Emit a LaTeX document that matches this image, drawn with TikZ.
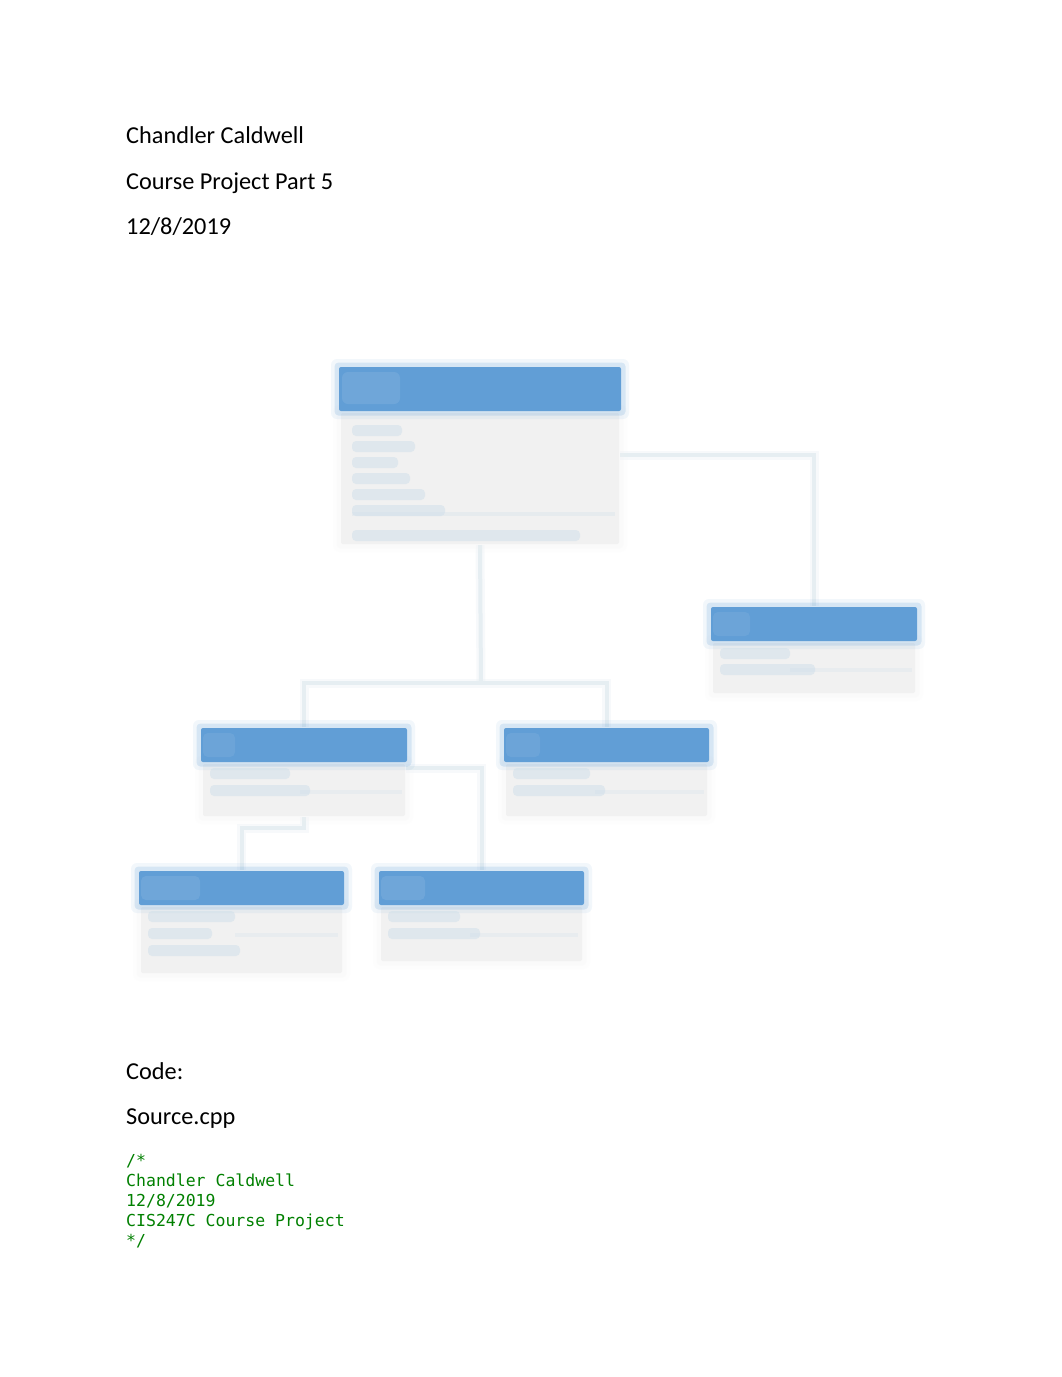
\documentclass[tikz,border=0pt]{standalone}
\usepackage{fontspec}
\setmainfont{Carlito}
\newfontfamily\codefam{DejaVu Sans Mono}
\usetikzlibrary{calc}
\definecolor{hdr}{HTML}{5B9BD5}
\definecolor{bodyc}{HTML}{F1F1F1}
\definecolor{connc}{HTML}{E6EEF2}
\definecolor{txtc}{HTML}{CFDFEA}
\definecolor{codegreen}{HTML}{008000}
\newcommand\bodyfs{\fontsize{24.3}{29}\selectfont}
\newcommand\codefs{\codefam\fontsize{16.5}{20}\selectfont}
\newcommand\softfill[3]{%
  \fill[#1,opacity=0.08,rounded corners=6pt] ($(#2.north west)+(-7,-7)$) rectangle ($(#2.south east)+(7,7)$);
  \fill[#1,opacity=0.18,rounded corners=4pt] ($(#2.north west)+(-3.5,-3.5)$) rectangle ($(#2.south east)+(3.5,3.5)$);
  \fill[#1,opacity=#3,rounded corners=2pt] ($(#2.north west)+(1,1)$) rectangle ($(#2.south east)+(-1,-1)$);
}
\newcommand\tbar[4]{\fill[txtc,opacity=0.5,rounded corners=4pt] (#1,#2) rectangle (#3,#4);}
\begin{document}
\begin{tikzpicture}[x=1pt,y=-1pt,
  region/.style={inner sep=0pt,outer sep=0pt,anchor=north west},
  conn/.style={draw=connc,line width=4pt,preaction={draw=connc,line width=9pt,opacity=0.3}},
  bodytext/.style={anchor=base west,inner sep=0pt,font=\bodyfs,text=black},
  codetext/.style={anchor=base west,inner sep=0pt,font=\codefs,text=codegreen}]
\useasboundingbox (0,0) rectangle (1062,1377);
\fill[white] (0,0) rectangle (1062,1377);

% header text
\node[bodytext] (author) at (126,143) {Chandler Caldwell};
\node[bodytext] (course) at (126,189) {Course Project Part 5};
\node[bodytext] (date) at (126,234) {12/8/2019};

% class regions (header + body)
\node[region,minimum width=284pt,minimum height=46pt] (tH) at (338,366) {};
\node[region,minimum width=280pt,minimum height=133pt] (tB) at (340,412) {};
\node[region,minimum width=208pt,minimum height=36pt] (rH) at (710,606) {};
\node[region,minimum width=204pt,minimum height=52pt] (rB) at (712,642) {};
\node[region,minimum width=208pt,minimum height=36pt] (mlH) at (200,727) {};
\node[region,minimum width=204pt,minimum height=54pt] (mlB) at (202,763) {};
\node[region,minimum width=207pt,minimum height=36pt] (mrH) at (503,727) {};
\node[region,minimum width=203pt,minimum height=54pt] (mrB) at (505,763) {};
\node[region,minimum width=207pt,minimum height=36pt] (blH) at (138,870) {};
\node[region,minimum width=203pt,minimum height=68pt] (blB) at (140,906) {};
\node[region,minimum width=207pt,minimum height=36pt] (brH) at (378,870) {};
\node[region,minimum width=203pt,minimum height=56pt] (brB) at (380,906) {};

% connectors
\coordinate (jn) at (481,683);
\coordinate (kn) at (241.5,828);
\draw[conn] ($(tB.north east)+(0,43)$) -| (rH.north);
\draw[conn] (tB.south) -- (jn);
\draw[conn] (mlH.north) |- (jn) -| (mrH.north);
\draw[conn] ($(mlB.north east)+(0,5)$) -| (brH.north);
\draw[conn] (mlB.south) |- (kn) -- (blH.north);

% class boxes
\foreach \b in {tB,rB,mlB,mrB,blB,brB} {\softfill{bodyc}{\b}{1}}
\foreach \h in {tH,rH,mlH,mrH,blH,brH} {\softfill{hdr}{\h}{0.95}}

% blurred label marks in headers
\fill[white,opacity=0.09,rounded corners=6pt] (342,372) rectangle (400,404);
\fill[white,opacity=0.07,rounded corners=5pt] (713,612) rectangle (750,636);
\fill[white,opacity=0.07,rounded corners=5pt] (203,733) rectangle (235,757);
\fill[white,opacity=0.07,rounded corners=5pt] (506,733) rectangle (540,757);
\fill[white,opacity=0.09,rounded corners=5pt] (141,876) rectangle (200,900);
\fill[white,opacity=0.09,rounded corners=5pt] (381,876) rectangle (425,900);

% blurred member marks in bodies
\tbar{352}{425}{402}{436}
\tbar{352}{441}{415}{452}
\tbar{352}{457}{398}{468}
\tbar{352}{473}{410}{484}
\tbar{352}{489}{425}{500}
\tbar{352}{505}{445}{516}
\tbar{352}{530}{580}{541}
\fill[txtc,opacity=0.3] (352,512) rectangle (615,516);

\tbar{720}{648}{790}{659}
\tbar{720}{664}{815}{675}
\fill[txtc,opacity=0.25] (790,668) rectangle (912,672);

\tbar{210}{768}{290}{779}
\tbar{210}{785}{310}{796}
\fill[txtc,opacity=0.25] (300,790) rectangle (402,794);

\tbar{513}{768}{590}{779}
\tbar{513}{785}{605}{796}
\fill[txtc,opacity=0.25] (595,790) rectangle (704,794);

\tbar{148}{911}{235}{922}
\tbar{148}{928}{212}{939}
\tbar{148}{945}{240}{956}
\fill[txtc,opacity=0.25] (235,933) rectangle (338,937);

\tbar{388}{911}{460}{922}
\tbar{388}{928}{480}{939}
\fill[txtc,opacity=0.25] (470,933) rectangle (578,937);

% code section
\node[bodytext] (codelbl) at (126,1079) {Code:};
\node[bodytext] (srclbl) at (126,1124) {Source.cpp};
\node[codetext] (c1) at (126,1166) {/*};
\node[codetext] (c2) at (126,1186) {Chandler Caldwell};
\node[codetext] (c3) at (126,1206) {12/8/2019};
\node[codetext] (c4) at (126,1226) {CIS247C Course Project};
\node[codetext] (c5) at (126,1246) {*/};
\end{tikzpicture}
\end{document}
